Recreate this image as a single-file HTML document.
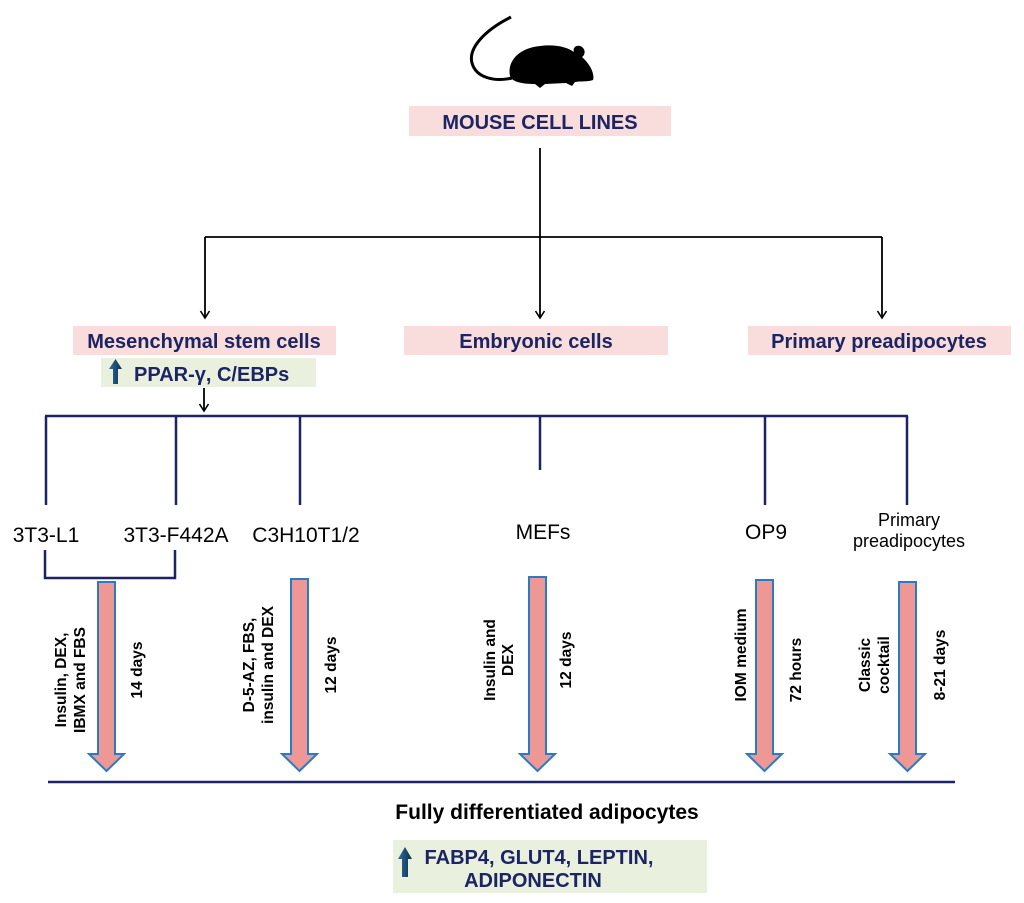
<!DOCTYPE html>
<html><head><meta charset="utf-8"><style>
html,body{margin:0;padding:0;background:#fff;}
svg{display:block;}
.h{font-family:"Liberation Sans",Arial,sans-serif;font-weight:bold;fill:#1c2463;}
.n{font-family:"Liberation Sans",Arial,sans-serif;fill:#000;}
.r{font-family:"Liberation Sans",Arial,sans-serif;font-weight:bold;font-size:15.5px;fill:#000;}
</style></head><body>
<svg width="1024" height="903" viewBox="0 0 1024 903" xmlns="http://www.w3.org/2000/svg">
<defs>
<marker id="ah" markerWidth="12" markerHeight="12" refX="9" refY="6" orient="auto" markerUnits="userSpaceOnUse">
<path d="M2,1.5 L9,6 L2,10.5" fill="none" stroke="#000" stroke-width="1.6"/>
</marker>
<linearGradient id="bg" x1="0" x2="1"><stop offset="0" stop-color="#2f6d9a"/><stop offset="1" stop-color="#0d2f4e"/></linearGradient>
</defs>
<!-- mouse -->
<path d="M511,17 C485,30 468,48 472,63 C476,78 495,82 512,78" fill="none" stroke="#000" stroke-width="3"/>
<path d="M510,76 C507,62 518,48 540,46 C555,44 567,47 574,52 C572,47 578,44 582,47 C586,50 585,55 582,57 C590,64 595,74 593,80 C588,82 580,81 575,82 L572,86 L566,83 L545,84 L540,88 L535,84 C522,84 512,82 510,76 Z" fill="#000"/>
<!-- top box -->
<rect x="409" y="106" width="262" height="30" fill="#f9dcdc"/>
<text class="h" x="540" y="129" font-size="20" text-anchor="middle">MOUSE CELL LINES</text>
<!-- tree -->
<g stroke="#000" stroke-width="1.8" fill="none">
<line x1="540" y1="148" x2="540" y2="237"/>
<line x1="205" y1="237" x2="882" y2="237"/>
<line x1="205" y1="237" x2="205" y2="318" marker-end="url(#ah)"/>
<line x1="540" y1="237" x2="540" y2="318" marker-end="url(#ah)"/>
<line x1="882" y1="237" x2="882" y2="318" marker-end="url(#ah)"/>
<line x1="204" y1="388" x2="204" y2="411" marker-end="url(#ah)"/>
</g>
<rect x="73" y="326" width="263" height="29" fill="#f9dcdc"/>
<text class="h" x="204" y="348" font-size="20" text-anchor="middle">Mesenchymal stem cells</text>
<rect x="404" y="326" width="264" height="29" fill="#f9dcdc"/>
<text class="h" x="536" y="348" font-size="20" text-anchor="middle">Embryonic cells</text>
<rect x="748" y="326" width="263" height="29" fill="#f9dcdc"/>
<text class="h" x="879" y="348" font-size="20" text-anchor="middle">Primary preadipocytes</text>
<rect x="101" y="358" width="215" height="29" fill="#e9f0de"/>
<path d="M113,384 L113,369 L109,369 L115.5,359 L122,369 L118,369 L118,384 Z" fill="url(#bg)"/>
<text class="h" x="134" y="381" font-size="20">PPAR-γ, C/EBPs</text>
<!-- navy lines -->
<g stroke="#1c2463" stroke-width="2.5" fill="none">
<line x1="45" y1="416" x2="908" y2="416"/>
<line x1="46" y1="416" x2="46" y2="505"/>
<line x1="176" y1="416" x2="176" y2="505"/>
<line x1="300" y1="416" x2="300" y2="505"/>
<line x1="540" y1="416" x2="540" y2="470"/>
<line x1="765" y1="416" x2="765" y2="505"/>
<line x1="907" y1="416" x2="907" y2="505"/>
<polyline points="45,550 45,578 175,578 175,550"/>
<line x1="48" y1="782" x2="955" y2="782"/>
</g>
<text class="n" x="46" y="542" font-size="21" text-anchor="middle">3T3-L1</text>
<text class="n" x="176" y="542" font-size="21" text-anchor="middle">3T3-F442A</text>
<text class="n" x="306" y="542" font-size="21" text-anchor="middle">C3H10T1/2</text>
<text class="n" x="543" y="539" font-size="21" text-anchor="middle">MEFs</text>
<text class="n" x="766" y="539" font-size="21" text-anchor="middle">OP9</text>
<text class="n" x="909" y="526" font-size="18" text-anchor="middle">Primary</text>
<text class="n" x="909" y="547" font-size="18" text-anchor="middle">preadipocytes</text>
<!-- fat arrows -->
<g fill="#ee9896" stroke="#2a7bc4" stroke-width="2">
<path d="M98,582 L115,582 L115,754 L124,754 L106.5,771 L89,754 L98,754 Z"/>
<path d="M291,579 L308,579 L308,754 L317,754 L299.5,771 L282,754 L291,754 Z"/>
<path d="M529,577 L546,577 L546,754 L555,754 L537.5,771 L520,754 L529,754 Z"/>
<path d="M756,580 L773,580 L773,754 L782,754 L764.5,771 L747,754 L756,754 Z"/>
<path d="M899,582 L916,582 L916,754 L925,754 L907.5,771 L890,754 L899,754 Z"/>
</g>
<!-- rotated labels -->
<text class="r" transform="translate(66,680) rotate(-90)" text-anchor="middle">Insulin, DEX,</text>
<text class="r" transform="translate(85,680) rotate(-90)" text-anchor="middle">IBMX and FBS</text>
<text class="r" transform="translate(142,670) rotate(-90)" text-anchor="middle">14 days</text>
<text class="r" transform="translate(254,665) rotate(-90)" text-anchor="middle">D-5-AZ, FBS,</text>
<text class="r" transform="translate(273,665) rotate(-90)" text-anchor="middle">insulin and DEX</text>
<text class="r" transform="translate(336,665) rotate(-90)" text-anchor="middle">12 days</text>
<text class="r" transform="translate(495,660) rotate(-90)" text-anchor="middle">Insulin and</text>
<text class="r" transform="translate(513,660) rotate(-90)" text-anchor="middle">DEX</text>
<text class="r" transform="translate(571,660) rotate(-90)" text-anchor="middle">12 days</text>
<text class="r" transform="translate(746,655) rotate(-90)" text-anchor="middle">IOM medium</text>
<text class="r" transform="translate(801,670) rotate(-90)" text-anchor="middle">72 hours</text>
<text class="r" transform="translate(870,665) rotate(-90)" text-anchor="middle">Classic</text>
<text class="r" transform="translate(889,665) rotate(-90)" text-anchor="middle">cocktail</text>
<text class="r" transform="translate(945,665) rotate(-90)" text-anchor="middle">8-21 days</text>
<!-- bottom -->
<text class="n" x="547" y="819" font-size="21" font-weight="bold" text-anchor="middle">Fully differentiated adipocytes</text>
<rect x="393" y="840" width="314" height="53" fill="#e9f0de"/>
<path d="M402,877 L402,859 L398,859 L405,847 L412,859 L408,859 L408,877 Z" fill="url(#bg)"/>
<text class="h" x="539" y="864" font-size="20" text-anchor="middle">FABP4, GLUT4, LEPTIN,</text>
<text class="h" x="533" y="887" font-size="20" text-anchor="middle">ADIPONECTIN</text>
</svg>
</body></html>
